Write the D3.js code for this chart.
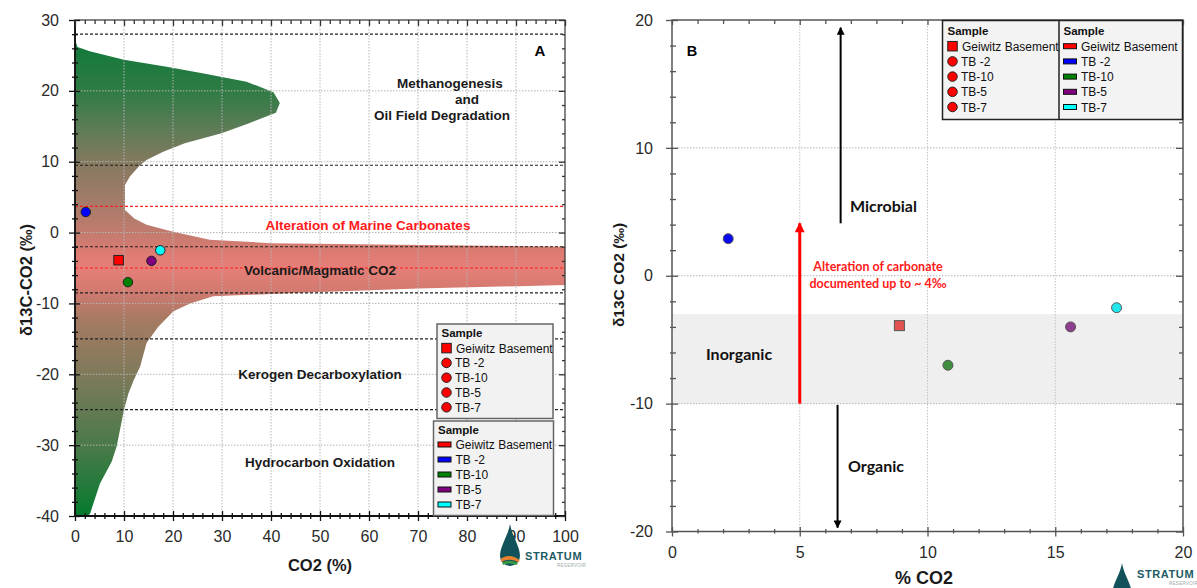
<!DOCTYPE html>
<html>
<head>
<meta charset="utf-8">
<script src="https://cdn.jsdelivr.net/npm/d3@7/dist/d3.min.js"></script>
<style>
body { margin: 0; background: #fff; }
svg { display: block; font-family: "Liberation Sans", Arial, sans-serif; }
</style>
</head>
<body>
<script>
//------------------------------- data -------------------------------
const samples = ["Geiwitz Basement", "TB -2", "TB-10", "TB-5", "TB-7"];
const co2Pct = [8.9, 2.2, 10.8, 15.6, 17.4];
const d13C = [-3.9, 2.9, -7.0, -4.0, -2.5];
const sampleShape = ["square", "circle", "circle", "circle", "circle"];
const sampleColors = ["#ff0000", "#0000ff", "#008000", "#800080", "#00ffff"];
const sampleColorsB = ["#e2534f", "#0a0af0", "#3e8e3e", "#8e3e8e", "#22e6ec"];

// panel A: outline of the CO2 source fields  [% CO2, d13C]
const envelopePts = [
  [0, 27.3], [0.5, 26.2], [3, 25.6], [10, 24.4], [18.7, 23.4], [26, 22.5], [35, 21.3],
  [40.5, 19.8], [41.8, 18.3], [41, 16.9], [35.4, 15.4], [29.9, 14.0], [22.4, 12.6],
  [18, 11.4], [14.6, 10.25], [13.3, 9.55], [11.2, 7.9], [10.2, 6.7], [10.2, 3.2],
  [12.1, 2.0], [14.6, 1.1], [20, 0.1], [27.5, -1.0], [40, -1.5], [100, -2.0],
  [100, -7.4], [70, -7.9], [46, -8.5], [28.2, -9.0], [23.5, -10], [20.1, -11.1],
  [17, -13.3], [14.6, -15.6], [13.3, -18.9], [12, -20.8], [10.9, -22.7], [10, -25],
  [8.5, -30.2], [7.5, -32.3], [5.1, -35.4], [3.1, -39.6], [2.7, -40], [0, -40]
];
const zoneBounds = [28, 9.5, -2, -8.5, -15, -25];
const carbonateBounds = [3.7, -5];
const fillStops = [
  [28, "#0b7a38"], [24, "#1d7a3e"], [20, "#2f7b45"], [15, "#5a7c56"], [10, "#84795f"],
  [5, "#a07b68"], [0, "#c27b6e"], [-3, "#de7b73"], [-5, "#e57f78"], [-8, "#d47a70"],
  [-12, "#a87a64"], [-20, "#7e7a5a"], [-30, "#4b7a4a"], [-40, "#047a2e"]
];

// tick labels
const xTicksA = d3.range(0, 101, 10);
const yTicksA = d3.range(-40, 31, 10);
const xTicksB = [0, 5, 10, 15, 20];
const yTicksB = [-20, -10, 0, 10, 20];

// panel B: inorganic band
const inorganicBand = [-10, -3];

//------------------------------- svg -------------------------------
const W = 1197, H = 588;
const svg = d3.select("body").append("svg").attr("width", W).attr("height", H);
const defs = svg.append("defs");

//------------------------------- scales ----------------------------
const xA = d3.scaleLinear().domain([0, 100]).range([75, 565]);
const yA = d3.scaleLinear().domain([-40, 30]).range([516, 20]);
const xB = d3.scaleLinear().domain([0, 20]).range([672, 1183]);
const yB = d3.scaleLinear().domain([-20, 20]).range([531.5, 20]);

//------------------------------- helpers ---------------------------
function ticks(orient, scale, pos, values, lenOut, lenIn, color, labels, pad) {
  const gen = { left: d3.axisLeft, right: d3.axisRight, top: d3.axisTop, bottom: d3.axisBottom }[orient];
  const ax = gen(scale).tickValues(values).tickSizeOuter(0).tickSize(lenOut)
    .tickPadding(pad || 3).tickFormat(labels ? (d => String(d)) : "");
  const tr = (orient === "left" || orient === "right") ? `translate(${pos},0)` : `translate(0,${pos})`;
  const g = svg.append("g").attr("transform", tr).call(ax)
    .attr("font-family", null).attr("font-size", 16).attr("color", color);
  g.select(".domain").remove();
  const sign = (orient === "left" || orient === "top") ? 1 : -1;
  const line = g.selectAll(".tick line").attr("stroke-width", 1.3);
  if (orient === "left" || orient === "right") line.attr("x1", sign * lenIn);
  else line.attr("y1", sign * lenIn);
  g.selectAll(".tick text").attr("fill", "#2a2a2a");
  return g;
}

function marker(g, shape, cx, cy, size, fill, stroke) {
  if (shape === "square") {
    g.append("rect").attr("x", cx - size / 2).attr("y", cy - size / 2)
      .attr("width", size).attr("height", size)
      .attr("fill", fill).attr("stroke", stroke).attr("stroke-width", 1);
  } else {
    g.append("circle").attr("cx", cx).attr("cy", cy).attr("r", size / 2)
      .attr("fill", fill).attr("stroke", stroke).attr("stroke-width", 1);
  }
}

function legendShapes(g, x, y, dy) {
  g.append("text").attr("x", x).attr("y", y + 4).attr("font-size", 11.5)
    .attr("font-weight", "bold").attr("fill", "#111").text("Sample");
  samples.forEach((s, i) => {
    const yy = y + dy * (i + 1);
    marker(g, sampleShape[i], x + 5, yy, 9.5, "#ff0000", "#222");
    g.append("text").attr("x", x + (i === 0 ? 14.5 : 13.5)).attr("y", yy + 4.5)
      .attr("font-size", 12).attr("fill", "#111").text(s);
  });
}

function legendSwatches(g, x, y, dy) {
  g.append("text").attr("x", x).attr("y", y + 4).attr("font-size", 11.5)
    .attr("font-weight", "bold").attr("fill", "#111").text("Sample");
  samples.forEach((s, i) => {
    const yy = y + dy * (i + 1);
    g.append("rect").attr("x", x).attr("y", yy - 2.5).attr("width", 13).attr("height", 5)
      .attr("fill", sampleColors[i]).attr("stroke", "#111").attr("stroke-width", 1);
    g.append("text").attr("x", x + 17.5).attr("y", yy + 4.5)
      .attr("font-size", 12).attr("fill", "#111").text(s);
  });
}

function logo(x, y, textDy) {
  const g = svg.append("g").attr("transform", `translate(${x},${y})`);
  g.append("path").attr("d", "M10,0 C12,12 20,22 20,32 A10,10 0 0 1 0,32 C0,22 8,12 10,0 Z")
    .attr("fill", "#12525a");
  g.append("path").attr("d", "M0.5,35 C6,31 13,31 19.5,36 L18.5,38.5 C13,35 7,35 1.5,38 Z").attr("fill", "#e8822e");
  g.append("path").attr("d", "M2,39 C7,36 13,36 18,39.5 L16,41 C11,39 7,39 3.5,41 Z").attr("fill", "#3b9b45");
  g.append("text").attr("x", 25).attr("y", textDy).attr("font-size", 11).attr("font-weight", "bold")
    .attr("letter-spacing", 0.6).attr("fill", "#1d5c64").text("STRATUM");
  g.append("text").attr("x", 57).attr("y", textDy + 7).attr("font-size", 4.5).attr("letter-spacing", 0.3)
    .attr("fill", "#9aa").text("RESERVOIR");
}

//============================== PANEL A ==============================
const grad = defs.append("linearGradient").attr("id", "fieldFill")
  .attr("gradientUnits", "userSpaceOnUse")
  .attr("x1", 0).attr("x2", 0).attr("y1", yA(28)).attr("y2", yA(-40));
grad.selectAll("stop").data(fillStops).join("stop")
  .attr("offset", d => (28 - d[0]) / 68)
  .attr("stop-color", d => d[1]);

const envLine = d3.line().x(d => xA(d[0])).y(d => yA(d[1]));
svg.append("path").attr("d", envLine(envelopePts) + "Z").attr("fill", "url(#fieldFill)");

// grid
svg.append("g").selectAll("line").data(xTicksA.slice(1, -1)).join("line")
  .attr("x1", d => xA(d)).attr("x2", d => xA(d)).attr("y1", yA(30)).attr("y2", yA(-40))
  .attr("stroke", "#b5b5b5").attr("stroke-dasharray", "1.5,1.5").attr("stroke-width", 1);
svg.append("g").selectAll("line").data(yTicksA.slice(1, -1)).join("line")
  .attr("x1", xA(0)).attr("x2", xA(100)).attr("y1", d => yA(d)).attr("y2", d => yA(d))
  .attr("stroke", "#b5b5b5").attr("stroke-dasharray", "1.5,1.5").attr("stroke-width", 1);

// zone boundaries
svg.append("g").selectAll("line").data(zoneBounds).join("line")
  .attr("x1", xA(0)).attr("x2", xA(100)).attr("y1", d => yA(d)).attr("y2", d => yA(d))
  .attr("stroke", "#222").attr("stroke-dasharray", "3,2").attr("stroke-width", 1.2);
svg.append("g").selectAll("line").data(carbonateBounds).join("line")
  .attr("x1", xA(0)).attr("x2", xA(100)).attr("y1", d => yA(d)).attr("y2", d => yA(d))
  .attr("stroke", "#ff2020").attr("stroke-dasharray", "3,2").attr("stroke-width", 1.2);

// zone labels
const zoneText = svg.append("g").attr("font-weight", "bold").attr("font-size", 13.5)
  .attr("text-anchor", "middle").attr("fill", "#1a1a1a");
zoneText.append("text").attr("x", 450).attr("y", 88).text("Methanogenesis");
zoneText.append("text").attr("x", 467).attr("y", 104).text("and");
zoneText.append("text").attr("x", 442).attr("y", 120).text("Oil Field Degradation");
zoneText.append("text").attr("x", 368).attr("y", 230).attr("fill", "#ff1a1a").text("Alteration of Marine Carbonates");
zoneText.append("text").attr("x", 320).attr("y", 275).text("Volcanic/Magmatic CO2");
zoneText.append("text").attr("x", 320).attr("y", 379).text("Kerogen Decarboxylation");
zoneText.append("text").attr("x", 320).attr("y", 467).text("Hydrocarbon Oxidation");
svg.append("text").attr("x", 540).attr("y", 56).attr("text-anchor", "middle")
  .attr("font-weight", "bold").attr("font-size", 15).text("A");

// axes A
svg.append("rect").attr("x", xA(0)).attr("y", yA(30)).attr("width", xA(100) - xA(0))
  .attr("height", yA(-40) - yA(30)).attr("fill", "none").attr("stroke", "#333").attr("stroke-width", 1.2);
svg.append("line").attr("x1", xA(0)).attr("x2", xA(0)).attr("y1", yA(30)).attr("y2", yA(-40))
  .attr("stroke", "#111").attr("stroke-width", 1.8);
svg.append("line").attr("x1", xA(0)).attr("x2", xA(100)).attr("y1", yA(-40)).attr("y2", yA(-40))
  .attr("stroke", "#111").attr("stroke-width", 1.8);
const minorXA = d3.range(0, 101, 2).filter(v => v % 10 !== 0);
const minorYA = d3.range(-40, 31, 2).filter(v => v % 10 !== 0);
ticks("left", yA, xA(0), yTicksA, 6, 5, "#111", true, 10);
ticks("left", yA, xA(0), minorYA, 3, 3, "#111", false);
ticks("bottom", xA, yA(-40), xTicksA, 5, 5, "#111", true, 10);
ticks("bottom", xA, yA(-40), minorXA, 3, 3, "#111", false);
ticks("top", xA, yA(30), xTicksA, 0, 6, "#333", false);
ticks("top", xA, yA(30), minorXA, 0, 4, "#333", false);
ticks("right", yA, xA(100), yTicksA, 0, 6, "#333", false);
ticks("right", yA, xA(100), minorYA, 0, 3, "#333", false);

svg.append("text").attr("x", 320).attr("y", 571).attr("text-anchor", "middle")
  .attr("font-weight", "bold").attr("font-size", 16.5).attr("fill", "#1a1a1a").text("CO2 (%)");
svg.append("text").attr("transform", `translate(32,280) rotate(-90)`).attr("text-anchor", "middle")
  .attr("font-weight", "bold").attr("font-size", 16.5).attr("fill", "#1a1a1a").text("δ13C-CO2 (‰)");

// points A
const ptsA = svg.append("g");
samples.forEach((s, i) => marker(ptsA, sampleShape[i], xA(co2Pct[i]), yA(d13C[i]), 9.5, sampleColors[i], "#222"));

// legends A
const legA1 = svg.append("g");
legA1.append("rect").attr("x", 437).attr("y", 324).attr("width", 116).attr("height", 94.5)
  .attr("fill", "#f2f2f2").attr("stroke", "#666").attr("stroke-width", 1.5);
legendShapes(legA1, 441.5, 333.3, 14.8);
const legA2 = svg.append("g");
legA2.append("rect").attr("x", 433.5).attr("y", 421).attr("width", 120).attr("height", 94.5)
  .attr("fill", "#f2f2f2").attr("stroke", "#666").attr("stroke-width", 1.5);
legendSwatches(legA2, 438, 429.5, 15);

logo(500, 524, 36);

//============================== PANEL B ==============================
svg.append("rect").attr("x", xB(0)).attr("y", yB(inorganicBand[1]))
  .attr("width", xB(20) - xB(0)).attr("height", yB(inorganicBand[0]) - yB(inorganicBand[1]))
  .attr("fill", "#efefef");

svg.append("g").selectAll("line").data(xTicksB.slice(1, -1)).join("line")
  .attr("x1", d => xB(d)).attr("x2", d => xB(d)).attr("y1", yB(20)).attr("y2", yB(-20))
  .attr("stroke", "#c4c4c4").attr("stroke-dasharray", "1.5,1.5").attr("stroke-width", 1);
svg.append("g").selectAll("line").data(yTicksB.slice(1, -1)).join("line")
  .attr("x1", xB(0)).attr("x2", xB(20)).attr("y1", d => yB(d)).attr("y2", d => yB(d))
  .attr("stroke", "#b5b5b5").attr("stroke-dasharray", "1.5,1.5").attr("stroke-width", 1);

// arrows
defs.append("marker").attr("id", "headK").attr("viewBox", "0 0 10 10").attr("refX", 9).attr("refY", 5)
  .attr("markerWidth", 4).attr("markerHeight", 4).attr("orient", "auto").attr("markerUnits", "strokeWidth")
  .append("path").attr("d", "M0,0 L10,5 L0,10 Z").attr("fill", "#000");
defs.append("marker").attr("id", "headR").attr("viewBox", "0 0 10 10").attr("refX", 9).attr("refY", 5)
  .attr("markerWidth", 3.6).attr("markerHeight", 3.3).attr("orient", "auto").attr("markerUnits", "strokeWidth")
  .append("path").attr("d", "M0,0 L10,5 L0,10 Z").attr("fill", "#ff0000");

svg.append("line").attr("x1", xB(6.6)).attr("x2", xB(6.6)).attr("y1", yB(4.1)).attr("y2", yB(19.4))
  .attr("stroke", "#000").attr("stroke-width", 2).attr("marker-end", "url(#headK)");
svg.append("line").attr("x1", xB(6.48)).attr("x2", xB(6.48)).attr("y1", yB(-10.1)).attr("y2", yB(-19.7))
  .attr("stroke", "#000").attr("stroke-width", 2).attr("marker-end", "url(#headK)");
svg.append("line").attr("x1", xB(5)).attr("x2", xB(5)).attr("y1", yB(-10)).attr("y2", yB(4.1))
  .attr("stroke", "#ff0000").attr("stroke-width", 3).attr("marker-end", "url(#headR)");

const noteB = svg.append("g").attr("font-family", "Lato, 'Open Sans', sans-serif").attr("font-weight", "bold");
noteB.append("text").attr("x", 850).attr("y", 212).attr("font-size", 16).attr("fill", "#111").text("Microbial");
noteB.append("text").attr("x", 706).attr("y", 360).attr("font-size", 16).attr("fill", "#111").text("Inorganic");
noteB.append("text").attr("x", 848).attr("y", 472).attr("font-size", 16).attr("fill", "#111").text("Organic");
noteB.append("text").attr("x", 878).attr("y", 271).attr("font-size", 12.5).attr("text-anchor", "middle")
  .attr("fill", "#ff1a1a").text("Alteration of carbonate");
noteB.append("text").attr("x", 878).attr("y", 288).attr("font-size", 12.5).attr("text-anchor", "middle")
  .attr("fill", "#ff1a1a").text("documented up to ~ 4‰");
svg.append("text").attr("x", 692).attr("y", 56).attr("text-anchor", "middle")
  .attr("font-weight", "bold").attr("font-size", 14.5).text("B");

// axes B
svg.append("rect").attr("x", xB(0)).attr("y", yB(20)).attr("width", xB(20) - xB(0))
  .attr("height", yB(-20) - yB(20)).attr("fill", "none").attr("stroke", "#555").attr("stroke-width", 1.5);
const minorXB = d3.range(0, 20.5, 1).filter(v => v % 5 !== 0);
const minorYB = d3.range(-20, 21, 2).filter(v => v % 10 !== 0);
ticks("left", yB, xB(0), yTicksB, 6, 6, "#555", true, 13);
ticks("left", yB, xB(0), minorYB, 2, 4, "#555", false);
ticks("bottom", xB, yB(-20), xTicksB, 5, 4.5, "#555", true, 10.5);
ticks("bottom", xB, yB(-20), minorXB, 2, 2.5, "#555", false);
ticks("top", xB, yB(20), xTicksB, 0, 5, "#555", false);
ticks("top", xB, yB(20), minorXB, 0, 4, "#555", false);
ticks("right", yB, xB(20), yTicksB, 0, 7, "#555", false);
ticks("right", yB, xB(20), minorYB, 0, 4, "#555", false);

svg.append("text").attr("x", 924).attr("y", 584).attr("text-anchor", "middle")
  .attr("font-weight", "bold").attr("font-size", 18).attr("fill", "#1a1a1a").text("% CO2");
svg.append("text").attr("transform", `translate(624,275) rotate(-90)`).attr("text-anchor", "middle")
  .attr("font-weight", "bold").attr("font-size", 15.5).attr("fill", "#1a1a1a").text("δ13C CO2 (‰)");

// points B
const ptsB = svg.append("g");
samples.forEach((s, i) => marker(ptsB, sampleShape[i], xB(co2Pct[i]), yB(d13C[i]), 10, sampleColorsB[i], "#555"));

// legend B
const legB = svg.append("g");
legB.append("rect").attr("x", 942.5).attr("y", 20.5).attr("width", 240).attr("height", 99)
  .attr("fill", "#f3f3f3").attr("stroke", "#222").attr("stroke-width", 1.5);
legB.append("line").attr("x1", 1059).attr("x2", 1059).attr("y1", 20.5).attr("y2", 119.5)
  .attr("stroke", "#222").attr("stroke-width", 1.5);
legendShapes(legB, 947.5, 31, 15.2);
legendSwatches(legB, 1063.5, 31, 15.2);

logo(1112, 563, 15);
</script>
</body>
</html>
